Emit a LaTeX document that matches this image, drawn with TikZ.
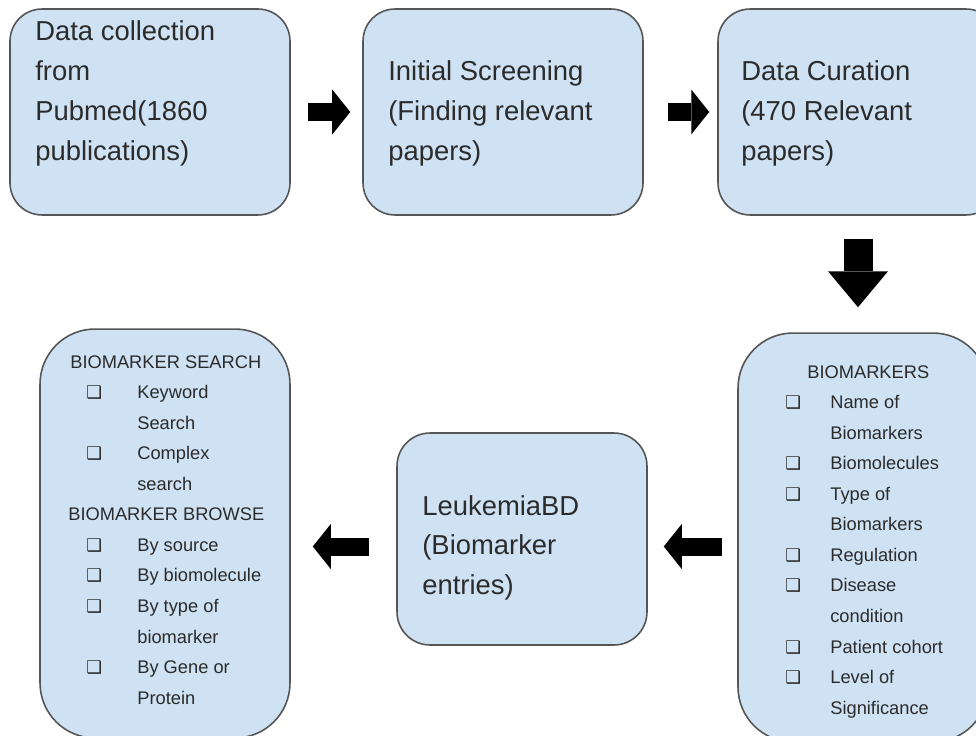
\documentclass[tikz,border=0pt]{standalone}
\usepackage{fontspec}
\setmainfont{Liberation Sans}
\newfontfamily\boxsym{DejaVu Sans}
\usetikzlibrary{arrows.meta}

\definecolor{boxfill}{HTML}{CFE2F3}
\definecolor{boxline}{HTML}{555555}
\definecolor{txtcol}{HTML}{2B2B2B}
\newcommand{\sq}{{\boxsym\bfseries\fontsize{10}{10}\selectfont ❑}}

\tikzset{
  stage/.style={draw=boxline, fill=boxfill, line width=0.9pt, rounded corners=0.64cm,
    minimum width=5.6cm, minimum height=4.12cm, inner sep=0pt},
  tall/.style={stage, rounded corners=1.1cm, minimum width=5cm, minimum height=8.18cm},
  mid/.style={stage, rounded corners=0.66cm, minimum width=5cm, minimum height=4.24cm},
  bigtext/.style={anchor=base west, inner sep=0pt, text=txtcol, font=\fontsize{15.6}{22.6}\selectfont},
  smalltext/.style={anchor=base west, inner sep=0pt, text=txtcol, font=\fontsize{10.4}{17.4}\selectfont},
  flow/.style={line width=0.36cm, -{Triangle[length=0.36cm, width=0.9cm, line width=0pt]}},
  bigflow/.style={line width=0.58cm, -{Triangle[length=0.72cm, width=1.2cm, line width=0pt]}}
}

\begin{document}
\begin{tikzpicture}[x=0.02cm, y=-0.02cm]
    \useasboundingbox (0,0) rectangle (976,736);
    \clip (0,0) rectangle (976,736);

    % Top row
    \node[stage] (b1) at (150,112) {};
    \node[stage] (b2) at (503,112) {};
    \node[stage] (b3) at (858,112) {};

    % Bottom row
    \node[tall] (b4) at (863,537.5) {};
    \node[mid] (b5) at (522,539) {};
    \node[tall] (b6) at (165,533.5) {};

    % Texts
    \node[bigtext] (t1) at (35,41) {\begin{tabular}[t]{@{}l@{}}Data collection\\from\\Pubmed(1860\\publications)\end{tabular}};
    \node[bigtext] (t2) at (388,81) {\begin{tabular}[t]{@{}l@{}}Initial Screening\\(Finding relevant\\papers)\end{tabular}};
    \node[bigtext] (t3) at (741,81) {\begin{tabular}[t]{@{}l@{}}Data Curation\\(470 Relevant\\papers)\end{tabular}};
    \node[bigtext] (t5) at (422,515) {\begin{tabular}[t]{@{}l@{}}LeukemiaBD\\(Biomarker\\entries)\end{tabular}};

    % Lists
    \node[smalltext] (t4) at (785,378) {\begin{tabular}[t]{@{}p{0.9cm}@{}l@{}}
        \multicolumn{2}{@{\hspace{0.44cm}}l@{}}{BIOMARKERS}\\
        \sq & Name of\\
            & Biomarkers\\
        \sq & Biomolecules\\
        \sq & Type of\\
            & Biomarkers\\
        \sq & Regulation\\
        \sq & Disease\\
            & condition\\
        \sq & Patient cohort\\
        \sq & Level of\\
            & Significance
      \end{tabular}};
    \node[smalltext] (t6) at (86,368) {\begin{tabular}[t]{@{}p{1.02cm}@{}l@{}}
        \multicolumn{2}{@{\hspace{-0.32cm}}l@{}}{BIOMARKER SEARCH}\\
        \sq & Keyword\\
            & Search\\
        \sq & Complex\\
            & search\\
        \multicolumn{2}{@{\hspace{-0.36cm}}l@{}}{BIOMARKER BROWSE}\\
        \sq & By source\\
        \sq & By biomolecule\\
        \sq & By type of\\
            & biomarker\\
        \sq & By Gene or\\
            & Protein
      \end{tabular}};

    % Arrows
    \coordinate (a4) at ([yshift=-0.18cm]b4.west);
    \draw[flow, shorten <=0.34cm, shorten >=0.24cm] (b1.east) -- (b2.west);
    \draw[flow, shorten <=0.48cm, shorten >=0.16cm] (b2.east) -- (b3.west);
    \draw[bigflow, shorten <=0.46cm, shorten >=0.5cm] (b3.south) -- (b3.south |- b4.north);
    \draw[flow, shorten <=0.3cm, shorten >=0.32cm] (a4) -- (a4 -| b5.east);
    \draw[flow, shorten <=0.54cm, shorten >=0.44cm] (a4 -| b5.west) -- (a4 -| b6.east);
\end{tikzpicture}
\end{document}
